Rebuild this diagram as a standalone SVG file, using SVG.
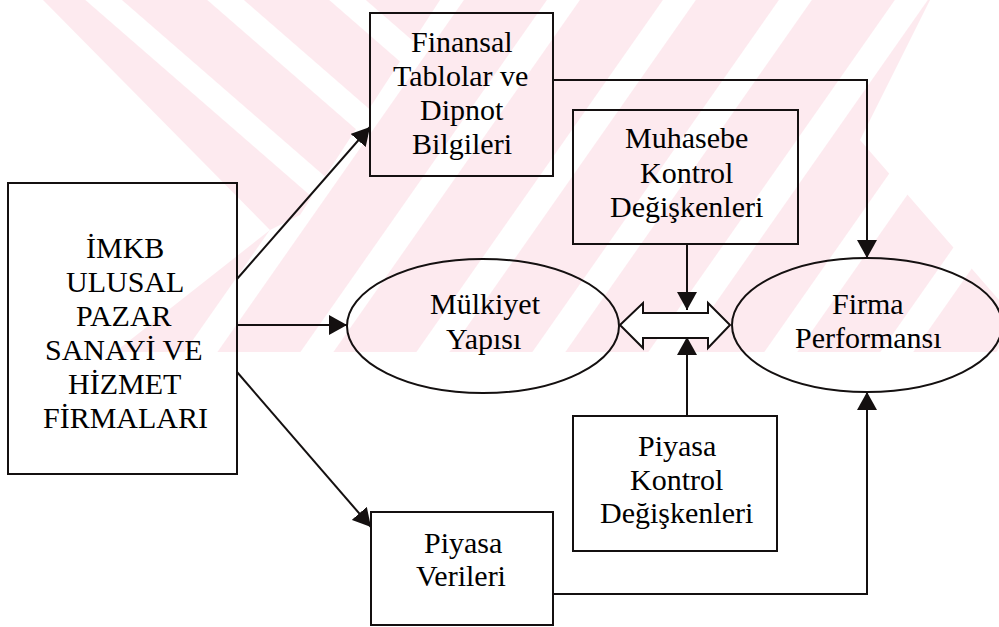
<svg xmlns="http://www.w3.org/2000/svg" width="999" height="627" viewBox="0 0 999 627">
  <style>
    .box { fill: none; stroke: #141010; stroke-width: 2; }
    .line { fill: none; stroke: #141010; stroke-width: 2; }
  </style>
  <defs>
    <marker id="ah" viewBox="0 0 18 20" refX="18" refY="10" markerWidth="18" markerHeight="20" markerUnits="userSpaceOnUse" orient="auto">
      <path d="M0,0 L18,10 L0,20 z" fill="#141010"/>
    </marker>
    <pattern id="stripesA" width="80" height="10" patternUnits="userSpaceOnUse" patternTransform="rotate(-49)">
      <rect x="0" y="0" width="56" height="10" fill="#fdeaef"/>
    </pattern>
    <pattern id="stripesB" width="95" height="10" patternUnits="userSpaceOnUse" patternTransform="rotate(35)">
      <rect x="0" y="0" width="68" height="10" fill="#fdeaef"/>
    </pattern>
    <clipPath id="wmclip">
      <rect x="0" y="0" width="999" height="352"/>
    </clipPath>
  </defs>

  <rect x="0" y="0" width="999" height="627" fill="#ffffff"/>

  <g id="watermark" clip-path="url(#wmclip)">
    <polygon points="43,0 440,0 300,215 270,230" fill="url(#stripesA)"/>
    <polygon points="440,0 930,0 860,140 999,300 999,352 115,352 270,230 300,215" fill="url(#stripesB)"/>
  </g>

  <g id="connectors">
    <line class="line" x1="237" y1="279" x2="370" y2="127" marker-end="url(#ah)"/>
    <line class="line" x1="237" y1="325" x2="347" y2="325" marker-end="url(#ah)"/>
    <line class="line" x1="237" y1="372" x2="371" y2="527" marker-end="url(#ah)"/>
    <polyline class="line" points="553,80 867,80 867,258" marker-end="url(#ah)"/>
    <polyline class="line" points="553,594 867,594 867,392" marker-end="url(#ah)"/>
    <line class="line" x1="687" y1="244" x2="687" y2="310" marker-end="url(#ah)"/>
    <line class="line" x1="687" y1="416" x2="687" y2="337" marker-end="url(#ah)"/>
    <polygon id="double-arrow" points="620,325 643,303 643,313 708,313 708,303 730,325 708,348 708,338 643,338 643,348" fill="#ffffff" stroke="#141010" stroke-width="2"/>
  </g>

  <g id="imkb">
    <rect class="box" x="8" y="183" width="229" height="291"/>
    <text x="86" y="258" font-family="Liberation Serif" font-size="30">İMKB</text>
    <text x="66" y="292" font-family="Liberation Serif" font-size="30">ULUSAL</text>
    <text x="76" y="326" font-family="Liberation Serif" font-size="30">PAZAR</text>
    <text x="45" y="360" font-family="Liberation Serif" font-size="30">SANAYİ VE</text>
    <text x="68" y="394" font-family="Liberation Serif" font-size="30">HİZMET</text>
    <text x="43" y="428" font-family="Liberation Serif" font-size="30">FİRMALARI</text>
  </g>

  <g id="finansal">
    <rect class="box" x="370" y="13" width="183" height="163"/>
    <text x="411" y="52" font-family="Liberation Serif" font-size="30">Finansal</text>
    <text x="393" y="86" font-family="Liberation Serif" font-size="30">Tablolar ve</text>
    <text x="420" y="120" font-family="Liberation Serif" font-size="30">Dipnot</text>
    <text x="412" y="154" font-family="Liberation Serif" font-size="30">Bilgileri</text>
  </g>

  <g id="muhasebe">
    <rect class="box" x="573" y="110" width="225" height="134"/>
    <text x="625" y="148" font-family="Liberation Serif" font-size="30">Muhasebe</text>
    <text x="640" y="183" font-family="Liberation Serif" font-size="30">Kontrol</text>
    <text x="610" y="217" font-family="Liberation Serif" font-size="30">Değişkenleri</text>
  </g>

  <g id="mulkiyet">
    <ellipse class="box" cx="483" cy="326" rx="136" ry="67"/>
    <text x="430" y="314" font-family="Liberation Serif" font-size="30">Mülkiyet</text>
    <text x="446" y="349" font-family="Liberation Serif" font-size="30">Yapısı</text>
  </g>

  <g id="firma">
    <ellipse class="box" cx="867" cy="325" rx="135" ry="67"/>
    <text x="832" y="314" font-family="Liberation Serif" font-size="30">Firma</text>
    <text x="795" y="348" font-family="Liberation Serif" font-size="30">Performansı</text>
  </g>

  <g id="piyasa-kontrol">
    <rect class="box" x="573" y="416" width="204" height="135"/>
    <text x="638" y="456" font-family="Liberation Serif" font-size="30">Piyasa</text>
    <text x="630" y="490" font-family="Liberation Serif" font-size="30">Kontrol</text>
    <text x="600" y="523" font-family="Liberation Serif" font-size="30">Değişkenleri</text>
  </g>

  <g id="piyasa-verileri">
    <rect class="box" x="371" y="512" width="182" height="113"/>
    <text x="424" y="553" font-family="Liberation Serif" font-size="30">Piyasa</text>
    <text x="416" y="586" font-family="Liberation Serif" font-size="30">Verileri</text>
  </g>
</svg>
